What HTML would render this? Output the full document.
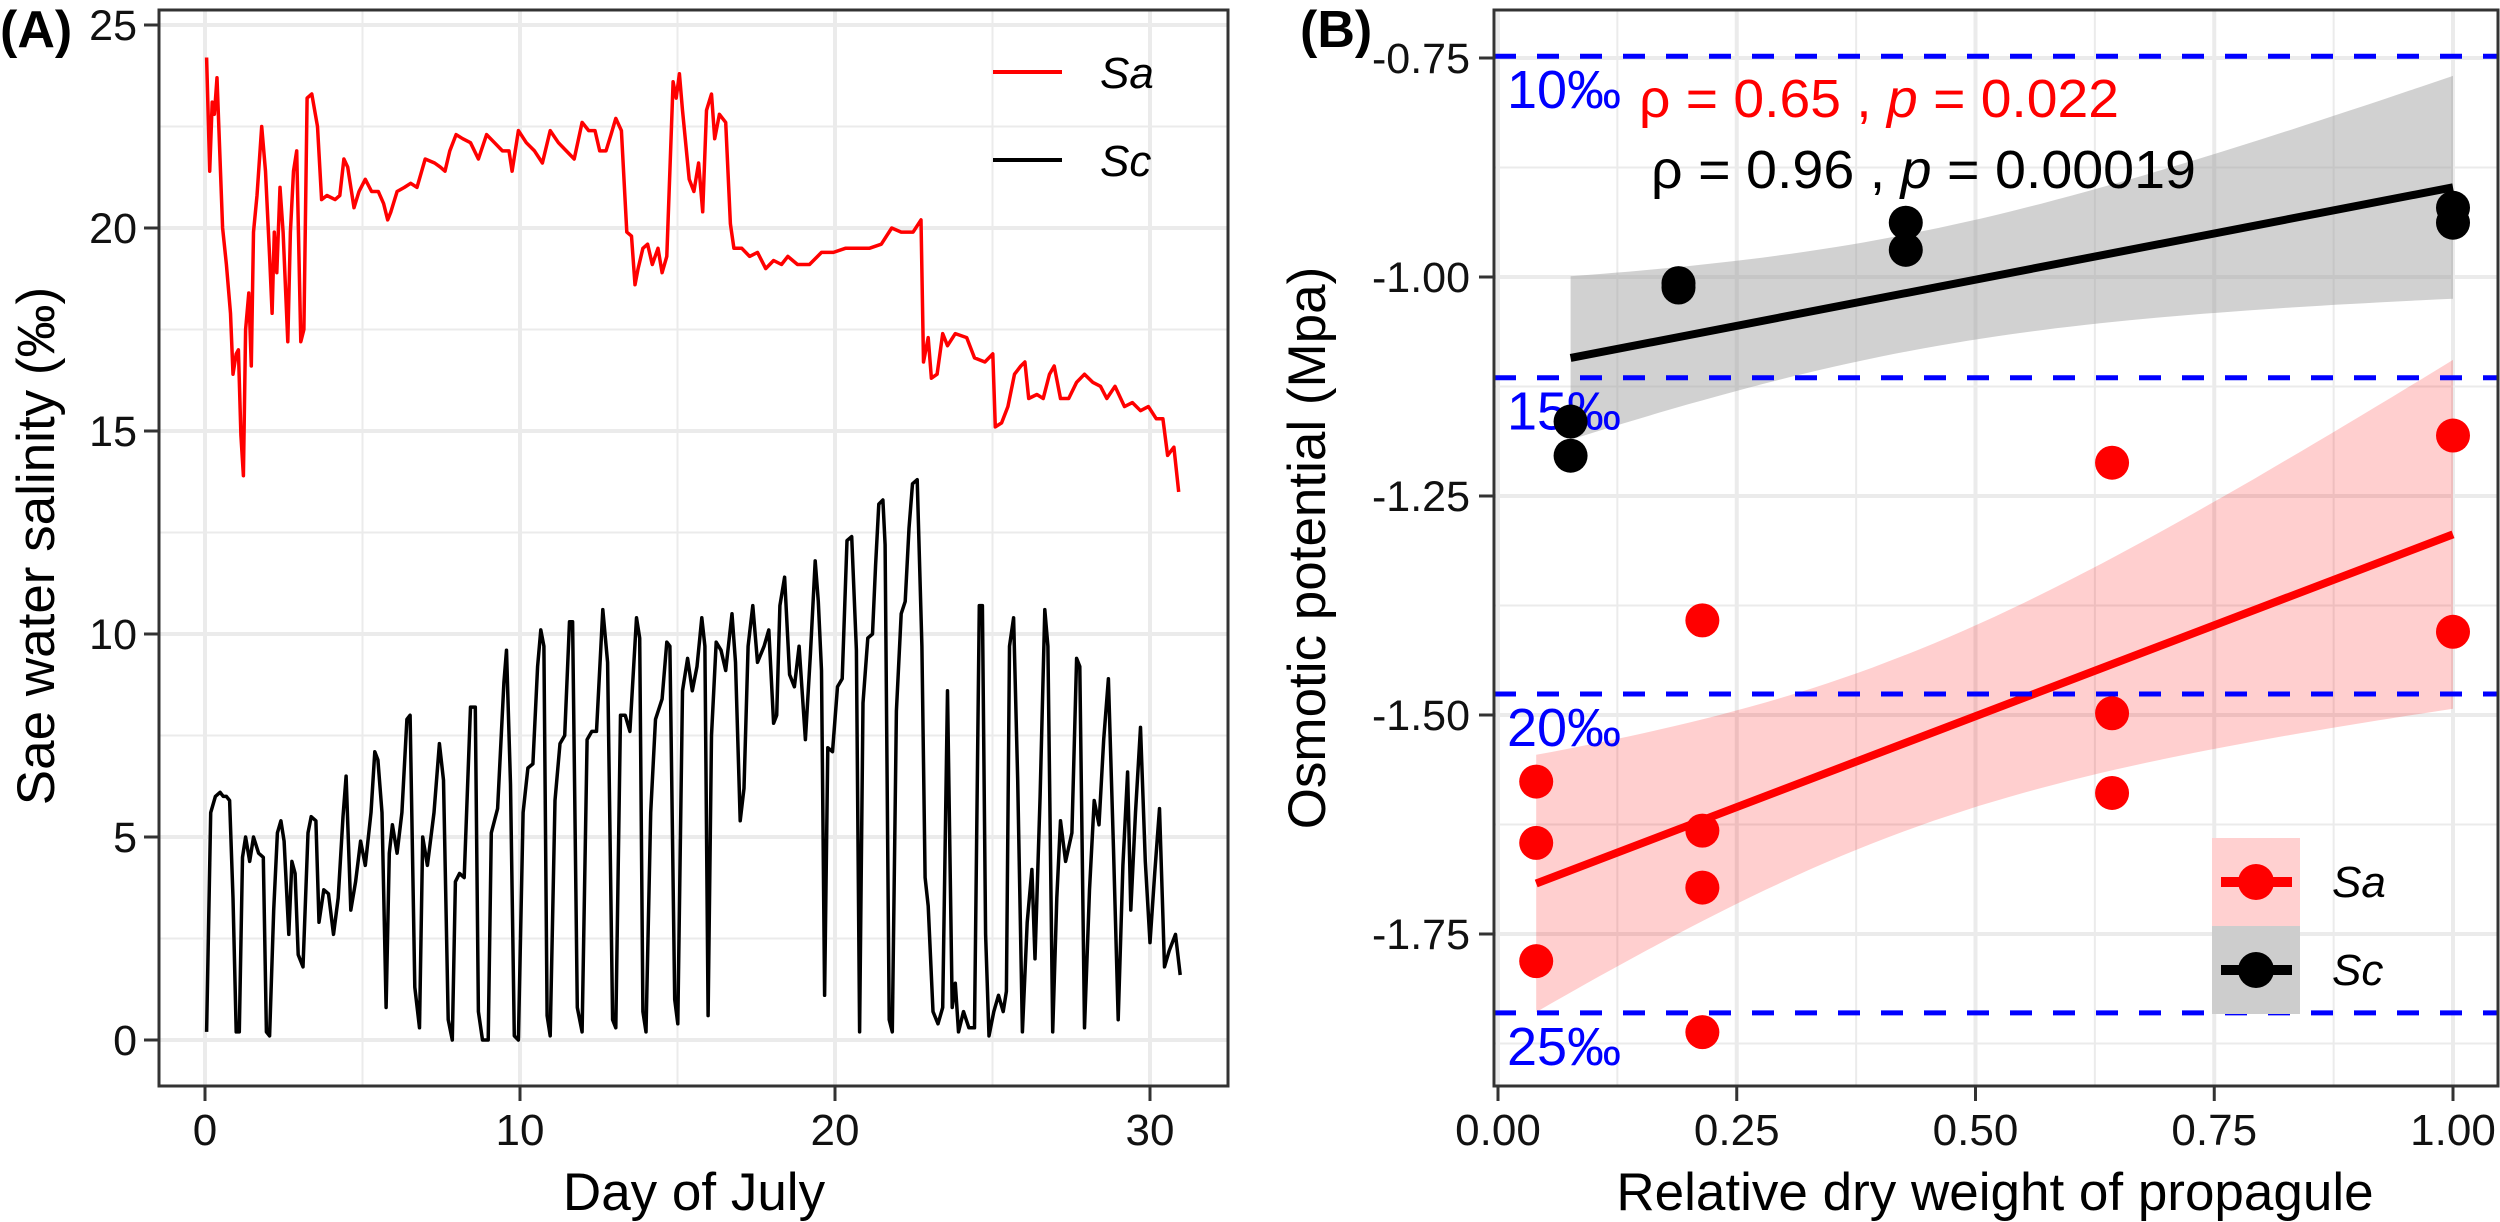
<!DOCTYPE html>
<html><head><meta charset="utf-8">
<style>
html,body{margin:0;padding:0;background:#fff;}
svg{display:block;font-family:"Liberation Sans",Arial,sans-serif;}
</style></head>
<body>
<svg id="fig" width="2500" height="1222" viewBox="0 0 2500 1222" xmlns="http://www.w3.org/2000/svg">
<g id="pa"></g>
<g id="pb"></g>
</svg>
<script>
// ---------- Panel A data ----------
const saDays = [0.05,0.15,0.23,0.3,0.38,0.56,0.68,0.81,0.89,0.99,1.06,1.14,1.22,1.29,1.39,1.47,1.54,1.65,1.8,1.92,2.05,2.13,2.2,2.28,2.38,2.48,2.63,2.71,2.81,2.91,3.04,3.14,3.24,3.39,3.57,3.7,3.87,4.13,4.28,4.41,4.53,4.73,4.89,5.09,5.29,5.5,5.67,5.8,5.9,6.1,6.33,6.53,6.73,6.99,7.29,7.47,7.62,7.77,7.97,8.18,8.43,8.68,8.94,9.19,9.44,9.65,9.75,9.95,10.2,10.46,10.71,10.96,11.22,11.47,11.72,11.97,12.18,12.38,12.53,12.73,12.89,13.04,13.22,13.39,13.54,13.65,13.75,13.9,14.05,14.2,14.38,14.51,14.66,14.86,14.96,15.06,15.16,15.37,15.52,15.67,15.8,15.92,16.08,16.18,16.33,16.53,16.68,16.79,17.04,17.29,17.54,17.8,18.05,18.3,18.5,18.81,19.19,19.57,19.95,20.33,20.71,21.09,21.47,21.8,22.1,22.48,22.73,22.81,22.96,23.06,23.24,23.42,23.57,23.82,24.18,24.43,24.76,25.01,25.09,25.29,25.49,25.7,25.9,26.03,26.15,26.41,26.61,26.81,26.96,27.16,27.42,27.67,27.92,28.18,28.43,28.63,28.89,29.19,29.44,29.7,29.95,30.2,30.41,30.56,30.76,30.91];
const saSalinity = [24.2,21.4,23.1,22.8,23.7,20.0,19.1,17.9,16.4,16.9,17.0,14.9,13.9,17.5,18.4,16.6,19.9,20.8,22.5,21.4,19.3,17.9,19.9,18.9,21.0,19.9,17.2,19.9,21.4,21.9,17.2,17.5,23.2,23.3,22.5,20.7,20.8,20.7,20.8,21.7,21.5,20.5,20.9,21.2,20.9,20.9,20.6,20.2,20.4,20.9,21.0,21.1,21.0,21.7,21.6,21.5,21.4,21.9,22.3,22.2,22.1,21.7,22.3,22.1,21.9,21.9,21.4,22.4,22.1,21.9,21.6,22.4,22.1,21.9,21.7,22.6,22.4,22.4,21.9,21.9,22.3,22.7,22.4,19.9,19.8,18.6,19.0,19.5,19.6,19.1,19.5,18.9,19.3,23.6,23.2,23.8,22.9,21.2,20.9,21.6,20.4,22.9,23.3,22.2,22.8,22.6,20.1,19.5,19.5,19.3,19.4,19.0,19.2,19.1,19.3,19.1,19.1,19.4,19.4,19.5,19.5,19.5,19.6,20.0,19.9,19.9,20.2,16.7,17.3,16.3,16.4,17.4,17.1,17.4,17.3,16.8,16.7,16.9,15.1,15.2,15.6,16.4,16.6,16.7,15.8,15.9,15.8,16.4,16.6,15.8,15.8,16.2,16.4,16.2,16.1,15.8,16.1,15.6,15.7,15.5,15.6,15.3,15.3,14.4,14.6,13.5];
const scDays = [0.05,0.18,0.33,0.48,0.58,0.68,0.78,0.89,0.99,1.09,1.19,1.29,1.42,1.54,1.7,1.85,1.95,2.05,2.18,2.3,2.41,2.51,2.66,2.76,2.86,2.96,3.11,3.27,3.37,3.52,3.62,3.77,3.92,4.08,4.23,4.38,4.48,4.63,4.78,4.94,5.09,5.27,5.39,5.49,5.62,5.75,5.85,5.95,6.1,6.25,6.41,6.51,6.66,6.81,6.91,7.06,7.27,7.44,7.57,7.72,7.85,7.95,8.08,8.23,8.43,8.58,8.68,8.81,8.99,9.09,9.29,9.49,9.57,9.7,9.82,9.95,10.1,10.25,10.41,10.56,10.66,10.76,10.86,10.96,11.11,11.27,11.42,11.57,11.67,11.82,11.97,12.13,12.28,12.43,12.63,12.78,12.94,13.04,13.19,13.34,13.49,13.7,13.8,13.9,14.0,14.15,14.3,14.51,14.66,14.76,14.91,15.01,15.16,15.32,15.47,15.62,15.77,15.87,15.97,16.08,16.23,16.38,16.53,16.73,16.84,16.99,17.11,17.24,17.39,17.54,17.75,17.9,18.05,18.15,18.25,18.4,18.56,18.71,18.86,19.06,19.22,19.37,19.47,19.57,19.67,19.77,19.92,20.08,20.23,20.38,20.53,20.68,20.78,20.89,21.04,21.19,21.29,21.39,21.52,21.59,21.72,21.82,21.95,22.1,22.23,22.35,22.46,22.61,22.76,22.86,22.96,23.11,23.27,23.42,23.57,23.72,23.82,23.92,24.08,24.25,24.43,24.58,24.68,24.78,24.89,25.04,25.19,25.34,25.44,25.54,25.67,25.8,25.95,26.1,26.25,26.35,26.51,26.66,26.76,26.91,27.04,27.16,27.32,27.52,27.67,27.77,27.92,28.08,28.23,28.38,28.53,28.68,28.84,28.99,29.14,29.29,29.39,29.54,29.7,29.85,30.0,30.15,30.3,30.46,30.61,30.81,30.96];
const scSalinity = [0.2,5.6,6.0,6.1,6.0,6.0,5.9,3.5,0.2,0.2,4.5,5.0,4.4,5.0,4.6,4.5,0.2,0.1,3.2,5.1,5.4,4.9,2.6,4.4,4.1,2.1,1.8,5.1,5.5,5.4,2.9,3.7,3.6,2.6,3.5,5.5,6.5,3.2,3.9,4.9,4.3,5.6,7.1,6.9,5.6,0.8,4.6,5.3,4.6,5.6,7.9,8.0,1.3,0.3,5.0,4.3,5.6,7.3,6.4,0.5,0.0,3.9,4.1,4.0,8.2,8.2,0.7,0.0,0.0,5.1,5.7,8.8,9.6,6.3,0.1,0.0,5.6,6.7,6.8,9.2,10.1,9.7,0.6,0.1,5.9,7.3,7.5,10.3,10.3,0.8,0.2,7.4,7.6,7.6,10.6,9.3,0.5,0.3,8.0,8.0,7.6,10.4,9.9,0.7,0.2,5.6,7.9,8.4,9.8,9.7,1.0,0.4,8.6,9.4,8.6,9.2,10.4,9.7,0.6,7.5,9.8,9.6,9.1,10.5,9.3,5.4,6.2,9.7,10.7,9.3,9.7,10.1,7.8,8.0,10.7,11.4,9.0,8.7,9.7,7.4,9.5,11.8,10.8,9.1,1.1,7.2,7.1,8.7,8.9,12.3,12.4,9.6,0.2,8.3,9.9,10.0,11.7,13.2,13.3,12.2,0.5,0.2,8.1,10.5,10.8,12.6,13.7,13.8,9.7,4.0,3.3,0.7,0.4,0.8,8.6,0.8,1.4,0.2,0.7,0.3,0.3,10.7,10.7,2.6,0.1,0.7,1.1,0.7,1.2,9.7,10.4,6.4,0.2,2.9,4.2,2.0,6.0,10.6,9.7,0.2,3.5,5.4,4.4,5.1,9.4,9.2,0.3,3.7,5.9,5.3,7.4,8.9,4.7,0.5,4.3,6.6,3.2,5.6,7.7,4.4,2.4,4.1,5.7,1.8,2.2,2.6,1.6];
const aXTicks = [0,10,20,30];
const aYTicks = [0,5,10,15,20,25];

// ---------- Panel B data ----------
const saWeight = [0.04,0.04,0.04,0.214,0.214,0.214,0.214,0.643,0.643,0.643,1.0,1.0];
const saPotential = [-1.576,-1.646,-1.781,-1.392,-1.632,-1.697,-1.862,-1.212,-1.498,-1.589,-1.181,-1.405];
const scWeight = [0.076,0.076,0.189,0.189,0.427,0.427,1.0,1.0];
const scPotential = [-1.165,-1.204,-1.007,-1.012,-0.938,-0.969,-0.921,-0.938];
const salinityLevels = [-0.748,-1.115,-1.476,-1.840];
const salinityLabels = ["10‰","15‰","20‰","25‰"];
const bXTicks = [0,0.25,0.5,0.75,1.0];
const bXLabels = ["0.00","0.25","0.50","0.75","1.00"];
const bYTicks = [-0.75,-1.0,-1.25,-1.5,-1.75];
const bYLabels = ["-0.75","-1.00","-1.25","-1.50","-1.75"];

const NS="http://www.w3.org/2000/svg";
function mk(parent, tag, attrs, text){
  const e=document.createElementNS(NS,tag);
  for(const k in attrs) e.setAttribute(k,attrs[k]);
  if(text!==undefined) e.textContent=text;
  parent.appendChild(e); return e;
}
const GRID="#ebebeb";

// ================= Panel A =================
const pa=document.getElementById('pa');
const A={l:159,r:1228,t:10,b:1086};
const ax=d=>205+d*31.5;
const ay=v=>1040-v*40.6;
let r=mk(pa,'rect',{x:A.l,y:A.t,width:A.r-A.l,height:A.b-A.t,fill:'#fff'});


for(let v=2.5;v<=25;v+=5){const g=mk(pa,'line',{x1:A.l,x2:A.r,y1:ay(v),y2:ay(v),stroke:GRID,'stroke-width':2});
 
 }
for(let d=5;d<=30;d+=10){const g=mk(pa,'line',{x1:ax(d),x2:ax(d),y1:A.t,y2:A.b,stroke:GRID,'stroke-width':2});
 
 }
aYTicks.forEach(v=>{const g=mk(pa,'line',{x1:A.l,x2:A.r,y1:ay(v),y2:ay(v),stroke:GRID,'stroke-width':4});
 
 
 const t=mk(pa,'line',{x1:A.l-15,x2:A.l,y1:ay(v),y2:ay(v),stroke:'#333','stroke-width':3});
 
 
 const tx=mk(pa,'text',{x:A.l-22,y:ay(v)+15,'font-size':43,'text-anchor':'end',fill:'#111'},String(v));
 
 });
aXTicks.forEach(d=>{const g=mk(pa,'line',{x1:ax(d),x2:ax(d),y1:A.t,y2:A.b,stroke:GRID,'stroke-width':4});
 
 
 const t=mk(pa,'line',{x1:ax(d),x2:ax(d),y1:A.b,y2:A.b+15,stroke:'#333','stroke-width':3});
 
 
 const tx=mk(pa,'text',{x:ax(d),y:1145,'font-size':44,'text-anchor':'middle',fill:'#111'},String(d));
 
 });
function pathFrom(xs,ys,fx,fy){return xs.map((x,i)=>(i?'L':'M')+fx(x).toFixed(1)+','+fy(ys[i]).toFixed(1)).join('');}
let p=mk(pa,'path',{d:pathFrom(scDays,scSalinity,ax,ay),fill:'none',stroke:'#000','stroke-width':3.5,'stroke-linejoin':'round'});


p=mk(pa,'path',{d:pathFrom(saDays,saSalinity,ax,ay),fill:'none',stroke:'#f00','stroke-width':3.5,'stroke-linejoin':'round'});


r=mk(pa,'rect',{x:A.l,y:A.t,width:A.r-A.l,height:A.b-A.t,fill:'none',stroke:'#333','stroke-width':3});


// legend A
[['Sa','#f00',72],['Sc','#000',160]].forEach(([lab,col,y])=>{
 const l=mk(pa,'line',{x1:993,x2:1062,y1:y,y2:y,stroke:col,'stroke-width':4});
 
 
 const t=mk(pa,'text',{x:1100,y:y+16,'font-size':44,'font-style':'italic',fill:'#000'},lab);
 
 
});
let t=mk(pa,'text',{x:694,y:1210,'font-size':53,'text-anchor':'middle',fill:'#000'},'Day of July');


t=mk(pa,'text',{x:0,y:0,'font-size':53,'text-anchor':'middle',fill:'#000',transform:'translate(54,546) rotate(-90)'},'Sae water salinity (‰)');


t=mk(pa,'text',{x:0,y:47,'font-size':52,'font-weight':'bold',fill:'#000'},'(A)');



// ================= Panel B =================
const pb=document.getElementById('pb');
const B={l:1494,r:2498,t:10,b:1086};
const bx=w=>1498+w*955;
const by=v=>58-(v+0.75)*876;
r=mk(pb,'rect',{x:B.l,y:B.t,width:B.r-B.l,height:B.b-B.t,fill:'#fff'});


for(let v=-0.875;v>=-1.9;v-=0.25){const g=mk(pb,'line',{x1:B.l,x2:B.r,y1:by(v),y2:by(v),stroke:GRID,'stroke-width':2});
 
 }
for(let w=0.125;w<1.05;w+=0.25){const g=mk(pb,'line',{x1:bx(w),x2:bx(w),y1:B.t,y2:B.b,stroke:GRID,'stroke-width':2});
 
 }
bYTicks.forEach((v,i)=>{const g=mk(pb,'line',{x1:B.l,x2:B.r,y1:by(v),y2:by(v),stroke:GRID,'stroke-width':4});
 
 
 const tk=mk(pb,'line',{x1:B.l-15,x2:B.l,y1:by(v),y2:by(v),stroke:'#333','stroke-width':3});
 
 
 const tx=mk(pb,'text',{x:B.l-24,y:by(v)+15,'font-size':43,'text-anchor':'end',fill:'#111'},bYLabels[i]);
 
 });
bXTicks.forEach((w,i)=>{const g=mk(pb,'line',{x1:bx(w),x2:bx(w),y1:B.t,y2:B.b,stroke:GRID,'stroke-width':4});
 
 
 const tk=mk(pb,'line',{x1:bx(w),x2:bx(w),y1:B.b,y2:B.b+15,stroke:'#333','stroke-width':3});
 
 
 const tx=mk(pb,'text',{x:bx(w),y:1145,'font-size':44,'text-anchor':'middle',fill:'#111'},bXLabels[i]);
 
 });

// linear fit with 95% CI
const tcrit={6:2.447,10:2.228};
function fit(xs,ys){
 const n=xs.length,mx=xs.reduce((a,b)=>a+b)/n,my=ys.reduce((a,b)=>a+b)/n;
 let sxx=0,sxy=0;xs.forEach((x,i)=>{sxx+=(x-mx)**2;sxy+=(x-mx)*(ys[i]-my);});
 const b=sxy/sxx,a=my-b*mx;let sse=0;xs.forEach((x,i)=>{sse+=(ys[i]-a-b*x)**2;});
 const s=Math.sqrt(sse/(n-2)),tc=tcrit[n-2]||2.2;
 const x0=Math.min(...xs),x1=Math.max(...xs);const up=[],lo=[];
 for(let k=0;k<=60;k++){const x=x0+(x1-x0)*k/60,yh=a+b*x,se=s*Math.sqrt(1/n+(x-mx)**2/sxx);
  up.push([x,yh+tc*se]);lo.push([x,yh-tc*se]);}
 return {a,b,x0,x1,up,lo};
}
function drawFit(xs,ys,fill,col,name){
 const f=fit(xs,ys);
 const pts=f.up.concat(f.lo.slice().reverse()).map(q=>bx(q[0]).toFixed(1)+','+by(q[1]).toFixed(1)).join(' ');
 const band=mk(pb,'polygon',{points:pts,fill:fill});
 
 
 return f;
}
function drawLine(f,col,name){
 const l=mk(pb,'line',{x1:bx(f.x0),y1:by(f.a+f.b*f.x0),x2:bx(f.x1),y2:by(f.a+f.b*f.x1),stroke:col,'stroke-width':8});
 
 
}
const fSc=drawFit(scWeight,scPotential,'rgba(153,153,153,0.45)','#000','sc');
const fSa=drawFit(saWeight,saPotential,'rgba(255,0,0,0.19)','#f00','sa');
drawLine(fSc,'#000','sc');
drawLine(fSa,'#f00','sa');
salinityLevels.forEach((v,i)=>{
 const l=mk(pb,'line',{x1:B.l,x2:B.r,y1:by(v),y2:by(v),stroke:'#00f','stroke-width':5,'stroke-dasharray':'22 21'});
 
 
 const tx=mk(pb,'text',{x:1507,y:by(v)+52,'font-size':54,fill:'#00f'},salinityLabels[i]);
 
 
});
scWeight.forEach((w,i)=>{const c=mk(pb,'circle',{cx:bx(w),cy:by(scPotential[i]),r:17,fill:'#000'});
 
 });
saWeight.forEach((w,i)=>{const c=mk(pb,'circle',{cx:bx(w),cy:by(saPotential[i]),r:17,fill:'#f00'});
 
 });
r=mk(pb,'rect',{x:B.l,y:B.t,width:B.r-B.l,height:B.b-B.t,fill:'none',stroke:'#333','stroke-width':3});


// annotations
t=mk(pb,'text',{x:1639,y:117,'font-size':54,fill:'#f00',textLength:480,lengthAdjust:'spacingAndGlyphs'});
t.innerHTML='ρ = 0.65 , <tspan font-style="italic">p</tspan> = 0.022';


t=mk(pb,'text',{x:1651,y:188,'font-size':54,fill:'#000',textLength:545,lengthAdjust:'spacingAndGlyphs'});
t.innerHTML='ρ = 0.96 , <tspan font-style="italic">p</tspan> = 0.00019';


// legend B
[['Sa','#f00','#ffd0d0',838],['Sc','#000','#cdcdcd',926]].forEach(([lab,col,bg,y])=>{
 const g=mk(pb,'g',{});
 
 
 mk(g,'rect',{x:2212,y:y,width:88,height:88,fill:bg});
 mk(g,'line',{x1:2221,x2:2292,y1:y+44,y2:y+44,stroke:col,'stroke-width':10});
 mk(g,'circle',{cx:2256,cy:y+44,r:18,fill:col});
 mk(g,'text',{x:2332,y:y+59,'font-size':44,'font-style':'italic',fill:'#000'},lab);
});
t=mk(pb,'text',{x:1995,y:1210,'font-size':53,'text-anchor':'middle',fill:'#000'},'Relative dry weight of propagule');


t=mk(pb,'text',{x:0,y:0,'font-size':53,'text-anchor':'middle',fill:'#000',transform:'translate(1325,548) rotate(-90)'},'Osmotic potential (Mpa)');


t=mk(pb,'text',{x:1300,y:47,'font-size':52,'font-weight':'bold',fill:'#000'},'(B)');


</script>
</body></html>
